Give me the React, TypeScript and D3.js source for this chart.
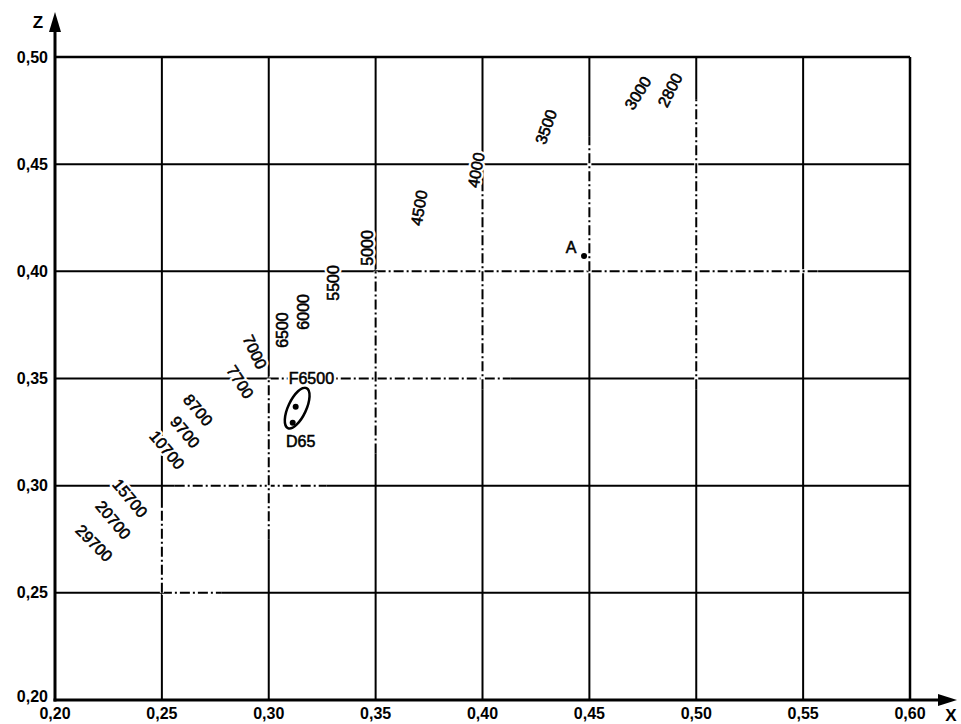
import React from "react";
import * as d3 from "d3";

const xTicks = [0.2, 0.25, 0.3, 0.35, 0.4, 0.45, 0.5, 0.55, 0.6];
const yTicks = [0.2, 0.25, 0.3, 0.35, 0.4, 0.45, 0.5];

// Planckian locus temperature labels (estimated data positions)
const cctLabels = ["2800", "3000", "3500", "4000", "4500", "5000", "5500", "6000", "6500", "7000", "7700", "8700", "9700", "10700", "15700", "20700", "29700"];
const cctX = [0.4877, 0.4727, 0.4297, 0.3970, 0.3703, 0.3460, 0.3301, 0.3160, 0.3062, 0.2935, 0.2866, 0.2669, 0.2608, 0.2524, 0.2351, 0.2272, 0.2183];
const cctY = [0.4846, 0.4832, 0.4674, 0.4473, 0.4296, 0.4109, 0.3946, 0.3811, 0.3726, 0.3624, 0.3484, 0.3353, 0.3250, 0.3167, 0.2942, 0.2840, 0.2732];
const cctAngle = [-63, -58, -70, -80, -80, -90, -90, -90, -90, 65, 57, 50, 50, 50, 50, 50, 45];

// grid portions drawn dash-dot
const dashHy = [0.40, 0.35, 0.30, 0.25];
const dashHfrom = [0.35, 0.30, 0.256, 0.25];
const dashHto = [0.557, 0.413, 0.327, 0.278];
const dashVx = [0.25, 0.30, 0.35, 0.40, 0.45, 0.50];
const dashVfrom = [0.25, 0.275, 0.315, 0.345, 0.40, 0.345];
const dashVto = [0.29, 0.35, 0.40, 0.438, 0.463, 0.48];

// points
const ptNames = ["F6500", "D65", "A"];
const ptX = [0.3126, 0.3112, 0.4475];
const ptY = [0.3368, 0.3294, 0.4072];

// tolerance ellipse
const ellCx = 0.3133;
const ellCy = 0.3362;
const ellRx = 0.0042;
const ellRy = 0.0103;

const W = 961;
const H = 724;
const x = d3.scaleLinear().domain([0.2, 0.6]).range([55, 910]);
const y = d3.scaleLinear().domain([0.2, 0.5]).range([700, 57]);
const fmt = (v: number) => d3.format(".2f")(v).replace(".", ",");
const FONT = "'Liberation Sans', Arial, Helvetica, sans-serif";

function HaloText(props: { x?: number; y?: number; transform?: string; anchor?: string; dy?: string; children: string }) {
  const common = {
    x: props.x,
    y: props.y,
    transform: props.transform,
    textAnchor: props.anchor || "start",
    dy: props.dy,
    fontSize: 16,
  };
  return (
    <g>
      <text {...common} fill="#fff" stroke="#fff" strokeWidth={5} strokeLinejoin="round">{props.children}</text>
      <text {...common} fill="#000" stroke="#000" strokeWidth={0.55}>{props.children}</text>
    </g>
  );
}

export default function App() {
  const dash = "10,3,2,3";
  const ex = x(ellCx);
  const ey = y(ellCy);
  const erx = x(ellCx + ellRx) - ex;
  const ery = y(ellCy) - y(ellCy + ellRy);
  return (
    <svg width={W} height={H} style={{ position: "absolute", left: 0, top: 0, background: "#fff" }} fontFamily={FONT}>
      <rect width={W} height={H} fill="#fff" />
      {/* grid */}
      {xTicks.slice(1, -1).map((v) => (
        <line key={"gx" + v} x1={x(v)} x2={x(v)} y1={y(0.5)} y2={y(0.2)} stroke="#000" strokeWidth={2} />
      ))}
      {yTicks.slice(1, -1).map((v) => (
        <line key={"gy" + v} x1={x(0.2)} x2={x(0.6)} y1={y(v)} y2={y(v)} stroke="#000" strokeWidth={2} />
      ))}
      {/* dash-dot portions */}
      {dashHy.map((v, i) => (
        <g key={"dh" + i}>
          <line x1={x(dashHfrom[i])} x2={x(dashHto[i])} y1={y(v)} y2={y(v)} stroke="#fff" strokeWidth={4} />
          <line x1={x(dashHfrom[i])} x2={x(dashHto[i])} y1={y(v)} y2={y(v)} stroke="#000" strokeWidth={2} strokeDasharray={dash} />
        </g>
      ))}
      {dashVx.map((v, i) => (
        <g key={"dv" + i}>
          <line x1={x(v)} x2={x(v)} y1={y(dashVfrom[i])} y2={y(dashVto[i])} stroke="#fff" strokeWidth={4} />
          <line x1={x(v)} x2={x(v)} y1={y(dashVfrom[i])} y2={y(dashVto[i])} stroke="#000" strokeWidth={2} strokeDasharray={dash} />
        </g>
      ))}
      {/* frame */}
      <line x1={x(0.2)} x2={x(0.6)} y1={y(0.5)} y2={y(0.5)} stroke="#000" strokeWidth={2.5} />
      <line x1={x(0.6)} x2={x(0.6)} y1={y(0.5)} y2={y(0.2)} stroke="#000" strokeWidth={2.5} />
      {/* axes */}
      <line x1={x(0.2)} x2={x(0.2)} y1={y(0.2) + 1.5} y2={28} stroke="#000" strokeWidth={3} />
      <path d={`M${x(0.2)},12 L${x(0.2) - 6},32 L${x(0.2) + 6},32 Z`} fill="#000" />
      <line x1={x(0.2) - 1.5} x2={942} y1={y(0.2)} y2={y(0.2)} stroke="#000" strokeWidth={3} />
      <path d={`M957,${y(0.2)} L938,${y(0.2) - 6} L938,${y(0.2) + 6} Z`} fill="#000" />
      <text x={38} y={28} fontSize={17} fontWeight="bold" textAnchor="middle">Z</text>
      <text x={951} y={721} fontSize={17} fontWeight="bold" textAnchor="middle">X</text>
      {/* tick labels */}
      {yTicks.map((v, i) => (
        <text key={"ty" + v} x={48} y={y(v) + (i === 0 ? -4 : 0)} dy="0.35em" fontSize={16} fontWeight="bold" textAnchor="end">{fmt(v)}</text>
      ))}
      {xTicks.map((v) => (
        <text key={"tx" + v} x={x(v)} y={719} fontSize={16} fontWeight="bold" textAnchor="middle">{fmt(v)}</text>
      ))}
      {/* locus labels */}
      {cctLabels.map((t, i) => (
        <HaloText key={"c" + t} transform={`translate(${x(cctX[i])},${y(cctY[i])}) rotate(${cctAngle[i]})`} dy="0.35em" anchor="middle">{t}</HaloText>
      ))}
      {/* ellipse */}
      <ellipse cx={ex} cy={ey} rx={erx} ry={ery} transform={`rotate(25,${ex},${ey})`} fill="none" stroke="#000" strokeWidth={2.5} />
      {ptNames.map((n, i) => (
        <circle key={"p" + n} cx={x(ptX[i])} cy={y(ptY[i])} r={3} fill="#000" />
      ))}
      <HaloText x={x(ptX[0]) - 7} y={y(0.35)} dy="0.35em">{ptNames[0]}</HaloText>
      <HaloText x={x(ptX[1]) + 8} y={y(ptY[1]) + 24} anchor="middle">{ptNames[1]}</HaloText>
      <HaloText x={x(ptX[2]) - 13} y={y(ptY[2]) - 3} anchor="middle">{ptNames[2]}</HaloText>
    </svg>
  );
}
